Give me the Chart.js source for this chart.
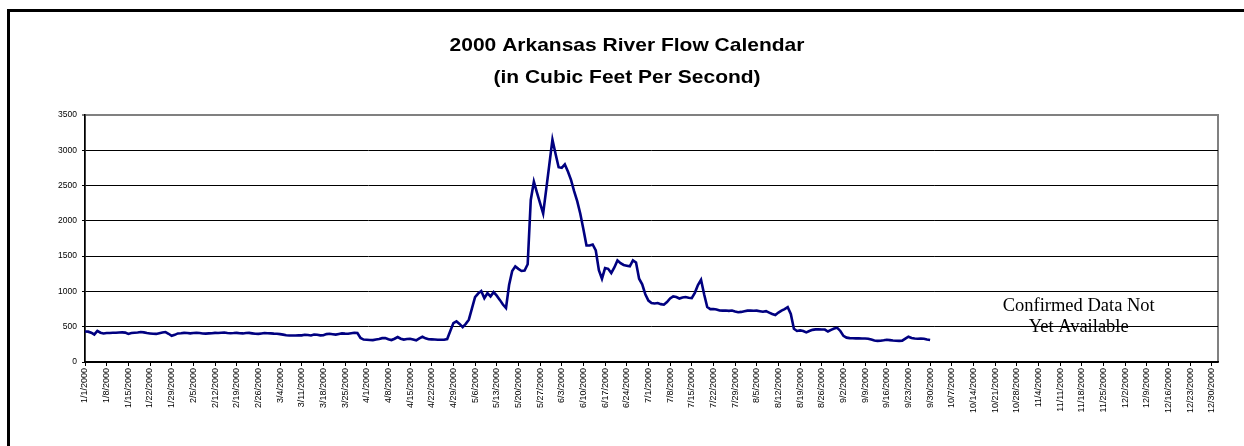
<!DOCTYPE html>
<html>
<head>
<meta charset="utf-8">
<script src="https://cdn.jsdelivr.net/npm/chart.js@4/dist/chart.umd.min.js"></script>
<style>
    body { margin: 0; background: #fff; overflow: hidden; }
    #frame {
        position: absolute; left: 7px; top: 9px;
        width: 1400px; height: 600px;
        border-left: 3px solid #000; border-top: 3px solid #000;
    }
    #chart { position: absolute; left: 0; top: 0; }
</style>
</head>
<body>
<div id="frame"></div>
<canvas id="chart" width="1244" height="446"></canvas>
<script>
// Daily flow (cfs), 1/1/2000 .. 9/30/2000
const flowJan = [433, 430, 415, 390, 440, 415, 405, 410, 412, 414, 414, 418, 420, 416, 398, 410,
    414, 418, 424, 420, 410, 405, 400, 398, 408, 418, 424, 400, 372, 385, 405];
const flowFeb = [408, 412, 410, 406, 410, 414, 410, 404, 402, 405, 408, 412, 410, 415, 418, 412,
    408, 410, 413, 408, 405, 410, 412, 406, 400, 398, 404, 410, 408];
const flowMar = [405, 402, 400, 395, 388, 380, 376, 375, 376, 380, 378, 385, 382, 376, 388, 386,
    378, 380, 395, 400, 394, 388, 398, 405, 402, 400, 408, 414, 410, 340, 318];
const flowApr = [315, 312, 310, 318, 325, 338, 340, 322, 311, 330, 354, 330, 318, 325, 330, 318,
    307, 335, 358, 335, 322, 320, 318, 316, 315, 316, 325, 440, 551, 575];
const flowMay = [540, 495, 540, 600, 760, 920, 970, 1005, 905, 975, 930, 990, 940, 880, 815, 765,
    1090, 1290, 1355, 1320, 1290, 1295, 1385, 2296, 2555, 2400, 2250, 2105, 2450, 2800, 3150];
const flowJun = [2950, 2760, 2750, 2800, 2700, 2580, 2420, 2280, 2100, 1880, 1650, 1650, 1665, 1580,
    1300, 1180, 1330, 1320, 1260, 1340, 1440, 1400, 1375, 1365, 1355, 1440, 1410, 1180, 1100, 960];
const flowJul = [870, 835, 830, 835, 820, 812, 850, 900, 930, 920, 900, 915, 920, 910, 905, 980,
    1090, 1165, 960, 780, 750, 752, 745, 730, 728, 730, 725, 730, 715, 705, 710];
const flowAug = [720, 728, 730, 726, 728, 720, 712, 720, 700, 680, 665, 700, 728, 750, 778, 680,
    470, 440, 448, 440, 420, 440, 455, 462, 465, 460, 460, 432, 455, 475, 484];
const flowSep = [440, 370, 345, 338, 336, 335, 335, 334, 334, 330, 318, 305, 300, 302, 308, 315,
    310, 305, 302, 300, 302, 330, 358, 340, 332, 330, 332, 330, 320, 312];

// Weekly axis labels (every 7th day of the year)
const weekLabels = [
    '1/1/2000', '1/8/2000', '1/15/2000', '1/22/2000', '1/29/2000',
    '2/5/2000', '2/12/2000', '2/19/2000', '2/26/2000',
    '3/4/2000', '3/11/2000', '3/18/2000', '3/25/2000',
    '4/1/2000', '4/8/2000', '4/15/2000', '4/22/2000', '4/29/2000',
    '5/6/2000', '5/13/2000', '5/20/2000', '5/27/2000',
    '6/3/2000', '6/10/2000', '6/17/2000', '6/24/2000',
    '7/1/2000', '7/8/2000', '7/15/2000', '7/22/2000', '7/29/2000',
    '8/5/2000', '8/12/2000', '8/19/2000', '8/26/2000',
    '9/2/2000', '9/9/2000', '9/16/2000', '9/23/2000', '9/30/2000',
    '10/7/2000', '10/14/2000', '10/21/2000', '10/28/2000',
    '11/4/2000', '11/11/2000', '11/18/2000', '11/25/2000',
    '12/2/2000', '12/9/2000', '12/16/2000', '12/23/2000', '12/30/2000'
];
const yTicks = [0, 500, 1000, 1500, 2000, 2500, 3000, 3500];

const titleLines = ['2000 Arkansas River Flow Calendar', '(in Cubic Feet Per Second)'];
const noteLines = ['Confirmed Data Not', 'Yet Available'];

const flow = [].concat(flowJan, flowFeb, flowMar, flowApr, flowMay, flowJun, flowJul, flowAug, flowSep);
const points = flow.map((v, i) => ({ x: i, y: v }));

// Plot border, title and the "not available" note
const decorations = {
    id: 'decorations',
    beforeDraw(chart) {
        const { ctx, chartArea: a } = chart;
        ctx.save();
        ctx.strokeStyle = '#808080';
        ctx.lineWidth = 2;
        ctx.strokeRect(a.left, a.top, a.right - a.left, a.bottom - a.top);
        ctx.restore();
    },
    afterDraw(chart) {
        const { ctx, scales } = chart;
        ctx.save();
        ctx.fillStyle = '#000';
        ctx.textAlign = 'center';
        ctx.textBaseline = 'alphabetic';

        // title, slightly squashed like the printed original
        ctx.font = 'bold 21px "Liberation Sans", Arial, sans-serif';
        [51, 83].forEach((y, i) => {
            ctx.save();
            ctx.translate(627, y);
            ctx.scale(1, 0.88);
            ctx.fillText(titleLines[i], 0, 0);
            ctx.restore();
        });

        // note placed in data space
        ctx.font = '18.5px "Liberation Serif", "Times New Roman", serif';
        const nx = scales.x.getPixelForValue(321);
        ctx.fillText(noteLines[0], nx, scales.y.getPixelForValue(725));
        ctx.fillText(noteLines[1], nx, scales.y.getPixelForValue(432));
        ctx.restore();
    }
};

new Chart(document.getElementById('chart'), {
    type: 'line',
    data: {
        datasets: [{
            data: points,
            borderColor: '#000080',
            borderWidth: 2.6,
            pointRadius: 0,
            tension: 0,
            fill: false
        }]
    },
    options: {
        responsive: false,
        animation: false,
        layout: { padding: { left: 0, right: 26, top: 115, bottom: 0 } },
        plugins: {
            legend: { display: false },
            title: { display: false },
            tooltip: { enabled: false }
        },
        scales: {
            x: {
                type: 'linear',
                min: 0,
                max: 366,
                afterFit: (scale) => { scale.height = 84; },
                afterBuildTicks: (scale) => {
                    scale.ticks = weekLabels.map((_, i) => ({ value: i * 7 }));
                },
                ticks: {
                    autoSkip: false,
                    maxRotation: 90,
                    minRotation: 90,
                    padding: 2,
                    color: '#000',
                    font: { family: '"Liberation Sans", Arial, sans-serif', size: 9 },
                    callback: (v) => weekLabels[Math.round(v / 7)]
                },
                grid: {
                    drawOnChartArea: false,
                    drawTicks: true,
                    tickLength: 4,
                    color: '#000'
                },
                border: { display: true, color: '#000', width: 1.5 }
            },
            y: {
                min: 0,
                max: 3500,
                afterFit: (scale) => { scale.width = 85; },
                afterBuildTicks: (scale) => {
                    scale.ticks = yTicks.map((v) => ({ value: v }));
                },
                ticks: {
                    padding: 5,
                    color: '#000',
                    font: { family: '"Liberation Sans", Arial, sans-serif', size: 8.5 },
                    callback: (v) => String(v)
                },
                grid: {
                    tickLength: 3,
                    color: (c) => (c.tick && c.tick.value === 3500 ? '#808080' : '#000'),
                    lineWidth: (c) => (c.tick && c.tick.value === 3500 ? 2 : 1)
                },
                border: { display: true, color: '#000', width: 1.5 }
            }
        }
    },
    plugins: [decorations]
});
</script>
</body>
</html>
